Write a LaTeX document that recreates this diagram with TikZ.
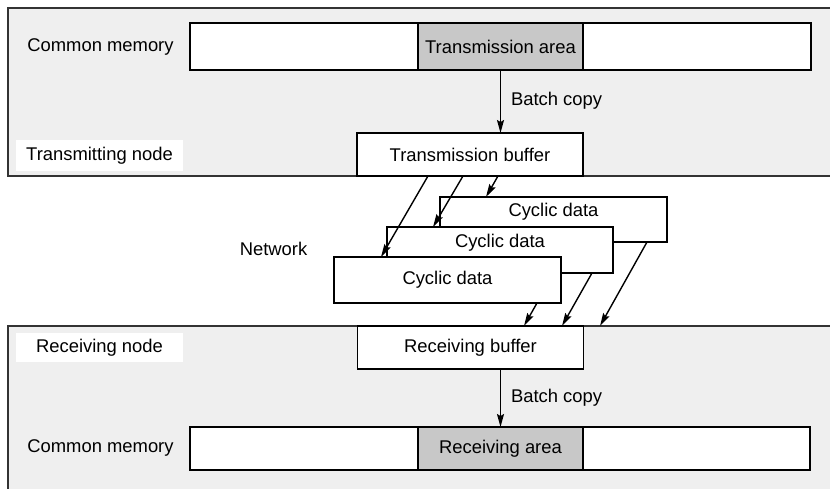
\documentclass[tikz,border=0pt]{standalone}
\usepackage{fontspec}
\setmainfont{Liberation Sans}
\usetikzlibrary{arrows.meta}
\definecolor{panelgray}{HTML}{EFEFEF}
\definecolor{shadegray}{HTML}{C8C8C8}
\definecolor{edgegray}{HTML}{333333}
\begin{document}
\begin{tikzpicture}[x=1pt,y=-1pt,
  every node/.style={font=\fontsize{18.4}{22}\selectfont, inner sep=0pt, outer sep=0pt},
  panel/.style={fill=panelgray, draw=edgegray, line width=1.6pt},
  box/.style={draw=black, line width=1.4pt, fill=white, minimum width=#1},
  box/.default=226pt,
  shade/.style={draw=black, line width=1.4pt, fill=shadegray},
  lbl/.style={fill=white, minimum width=167pt},
  arr/.style={line width=1.4pt, -{Stealth[length=13pt,width=7pt,inset=2pt]}}
]
\useasboundingbox (0,0) rectangle (830,488);
% panels
\fill[panelgray] (8,8) rectangle (832,176);
\draw[edgegray, line width=1.8pt] (832,8) -- (8,8) -- (8,176) -- (832,176);
\fill[panelgray] (8,326) rectangle (832,490);
\draw[edgegray, line width=1.8pt] (832,326) -- (8,326) -- (8,490);

% top memory
\node[box=621pt, minimum height=47pt] (memT) at (500.5,46.5) {};
\node[shade, minimum width=165pt, minimum height=47pt] (areaT) at (500.5,46.5) {Transmission area};
\node (cmT) at (100.5,47) {Common memory};
\node[lbl, minimum height=31pt] (tn) at (99.5,155.5) {Transmitting node};
\node[box, minimum height=43pt] (tbuf) at (470,154.5) {Transmission buffer};
\draw[arr] (areaT.south) -- (areaT.south |- tbuf.north) coordinate (tbtop);
\node[anchor=west] (bcT) at (511,101) {Batch copy};

% network
\node (net) at (273.5,249) {Network};
\node[box=227pt, minimum height=45pt] (c1) at (553.5,219.5) {};
\node at (553.5,212) {Cyclic data};
\node[box=226pt, minimum height=46pt] (c2) at (500,250) {};
\node at (500,243) {Cyclic data};
\node[box=227pt, minimum height=46pt] (c3) at (447.5,280) {Cyclic data};

\coordinate (s1) at (428,176);
\coordinate (s2) at (463,176);
\coordinate (s3) at (498,176);
\coordinate (e1) at (381,257);
\coordinate (e2) at (433,227);
\coordinate (e3) at (486,197);
\draw[arr] (s1) -- (e1);
\draw[arr] (s2) -- (e2);
\draw[arr] (s3) -- (e3);
\coordinate (b1) at (537,303);
\coordinate (b2) at (592,273);
\coordinate (b3) at (647,242);
\coordinate (r1) at (524,326);
\coordinate (r2) at (562,326);
\coordinate (r3) at (600,326);
\draw[arr] (b1) -- (r1);
\draw[arr] (b2) -- (r2);
\draw[arr] (b3) -- (r3);

% bottom
\node[lbl, minimum height=29pt] (rn) at (99.5,347.5) {Receiving node};
\node[box, minimum height=43pt] (rbuf) at (470.5,347.5) {Receiving buffer};
\node[box=620pt, minimum height=43pt] (memB) at (500,448.5) {};
\node[shade, minimum width=165pt, minimum height=43pt] (areaB) at (500.5,448.5) {Receiving area};
\node (cmB) at (100.5,448) {Common memory};
\draw[arr] (areaB.north |- rbuf.south) -- (areaB.north);
\node[anchor=west] (bcB) at (511,398) {Batch copy};
\end{tikzpicture}
\end{document}
